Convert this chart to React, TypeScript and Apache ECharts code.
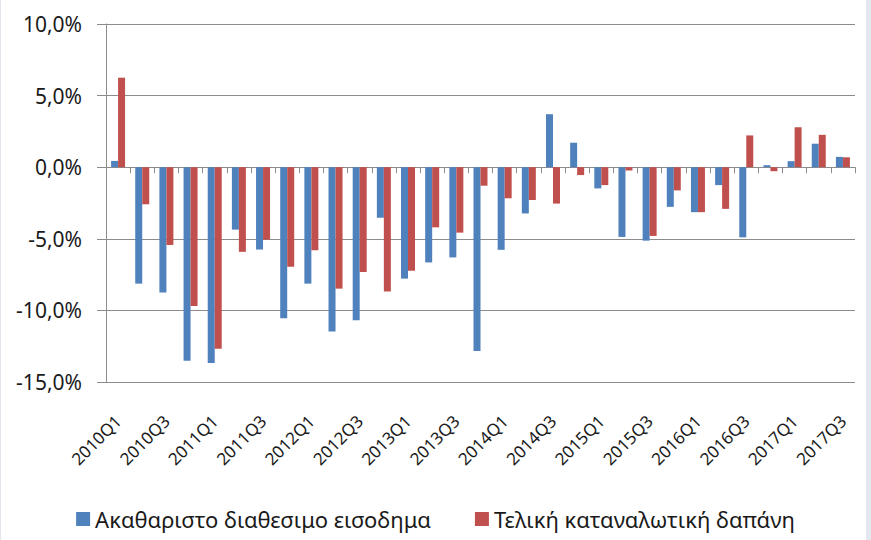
import React, { useEffect, useRef } from "react";
import * as echarts from "echarts";

const quarters = [
  "2010Q1", "2010Q2", "2010Q3", "2010Q4",
  "2011Q1", "2011Q2", "2011Q3", "2011Q4",
  "2012Q1", "2012Q2", "2012Q3", "2012Q4",
  "2013Q1", "2013Q2", "2013Q3", "2013Q4",
  "2014Q1", "2014Q2", "2014Q3", "2014Q4",
  "2015Q1", "2015Q2", "2015Q3", "2015Q4",
  "2016Q1", "2016Q2", "2016Q3", "2016Q4",
  "2017Q1", "2017Q2", "2017Q3",
];

const disposableIncome = [
  0.44, -8.13, -8.75, -13.51,
  -13.67, -4.36, -5.75, -10.55,
  -8.13, -11.48, -10.69, -3.53,
  -7.78, -6.65, -6.3, -12.84,
  -5.77, -3.23, 3.7, 1.71,
  -1.48, -4.87, -5.13, -2.77,
  -3.14, -1.25, -4.9, 0.14,
  0.42, 1.64, 0.72,
];

const consumption = [
  6.25, -2.59, -5.43, -9.7,
  -12.68, -5.91, -5.06, -6.95,
  -5.8, -8.48, -7.32, -8.68,
  -7.23, -4.2, -4.57, -1.29,
  -2.17, -2.29, -2.54, -0.55,
  -1.25, -0.23, -4.8, -1.62,
  -3.14, -2.91, 2.22, -0.28,
  2.79, 2.26, 0.69,
];

const seriesNames = ["Ακαθαριστο διαθεσιμο εισοδημα", "Τελική καταναλωτική δαπάνη"];

const FONT = "'Noto Sans', 'DejaVu Sans', sans-serif";

export default function App() {
  const ref = useRef<HTMLDivElement>(null);
  useEffect(() => {
    if (!ref.current) return;
    const chart = echarts.init(ref.current, null, { renderer: "svg" });
    chart.setOption({
      animation: false,
      backgroundColor: "#ffffff",
      textStyle: { fontFamily: FONT },
      grid: { left: 106, right: 16, top: 24, bottom: 158, containLabel: false },
      legend: {
        bottom: 5,
        left: "center",
        itemWidth: 14,
        itemHeight: 14,
        itemGap: 44,
        icon: "rect",
        textStyle: { fontSize: 22, color: "#1a1a1a", fontFamily: FONT },
        data: seriesNames,
      },
      xAxis: [
        {
          type: "category",
          data: quarters,
          position: "bottom",
          axisLine: { onZero: true, lineStyle: { color: "#8c8c8c", width: 1 } },
          axisTick: { show: true, length: 6, interval: 0, lineStyle: { color: "#8c8c8c" } },
          axisLabel: { show: false },
          splitLine: { show: false },
        },
        {
          type: "category",
          data: quarters,
          position: "bottom",
          axisLine: { show: false, onZero: false },
          axisTick: { show: false },
          axisLabel: {
            show: true,
            interval: 1,
            rotate: 45,
            margin: 36,
            fontSize: 17,
            color: "#1a1a1a",
            fontFamily: FONT,
          },
          splitLine: { show: false },
        },
      ],
      yAxis: {
        type: "value",
        min: -15,
        max: 10,
        interval: 5,
        axisLine: { show: true, lineStyle: { color: "#8c8c8c", width: 1 } },
        axisTick: { show: true, length: 9, lineStyle: { color: "#8c8c8c" } },
        axisLabel: {
          margin: 24,
          fontSize: 21,
          color: "#1a1a1a",
          fontFamily: FONT,
          formatter: (v: number) => v.toFixed(1).replace(".", ",") + "%",
        },
        splitLine: { show: true, lineStyle: { color: "#8c8c8c", width: 1 } },
      },
      series: [
        {
          name: seriesNames[0],
          type: "bar",
          xAxisIndex: 0,
          data: disposableIncome,
          barWidth: 7,
          barGap: "0%",
          itemStyle: { color: "#4f81bd" },
        },
        {
          name: seriesNames[1],
          type: "bar",
          xAxisIndex: 0,
          data: consumption,
          barWidth: 7,
          barGap: "0%",
          itemStyle: { color: "#c0504d" },
        },
      ],
      graphic: [
        {
          type: "rect",
          left: 866,
          top: 0,
          shape: { width: 5, height: 540 },
          style: { fill: "#e3e8ee" },
          silent: true,
        },
        {
          type: "rect",
          left: 0,
          top: 0,
          shape: { width: 1, height: 540 },
          style: { fill: "#e3e8ee" },
          silent: true,
        },
      ],
    });
    return () => chart.dispose();
  }, []);
  return (
    <div
      ref={ref}
      style={{ position: "absolute", left: 0, top: 0, width: 871, height: 540 }}
    />
  );
}
